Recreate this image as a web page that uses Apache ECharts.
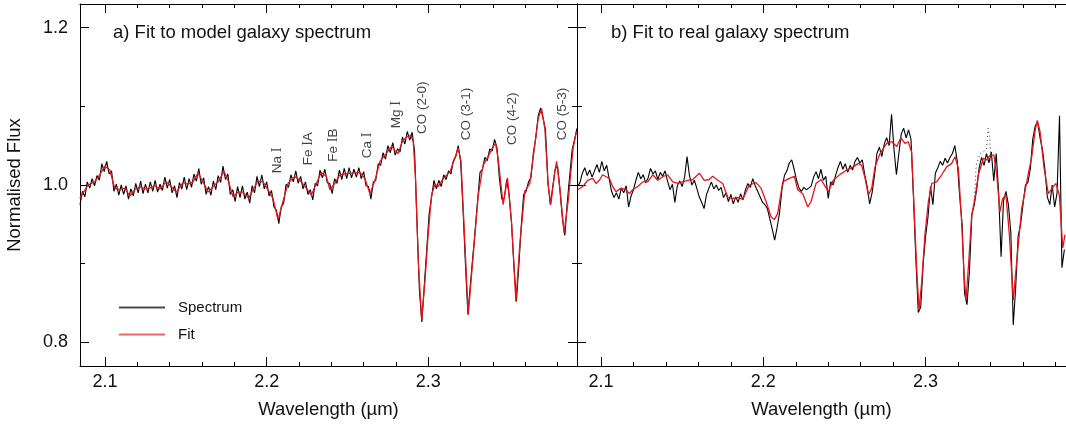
<!DOCTYPE html>
<html>
<head>
<meta charset="utf-8">
<script src="https://cdn.jsdelivr.net/npm/echarts@6/dist/echarts.min.js"></script>
<style>
  html, body { margin: 0; padding: 0; background: #fff; }
  #chart { width: 1066px; height: 424px; }
</style>
</head>
<body>
<div id="chart"></div>
<script>
// ---- tick values ----
const majorX = [2.1, 2.2, 2.3];
const minorX = [2.12, 2.14, 2.16, 2.18, 2.22, 2.24, 2.26, 2.28, 2.32, 2.34, 2.36, 2.38];
const majorY = [0.8, 1.0, 1.2];
const minorY = [0.9, 1.1];

// ---- panel a: model galaxy spectrum, regular wavelength grid ----
const modelStart = 2.0845;
const modelStep = 0.0015;
const modelSpectrum = [
  0.975,0.992,0.985,1.004,0.996,1.008,0.999,1.012,1.006,1.027,
  1.017,1.030,1.014,1.018,0.992,1.001,0.987,1.000,0.988,0.999,
  0.982,0.995,0.986,1.002,0.990,1.005,0.989,1.001,0.990,1.004,
  0.992,1.006,0.991,1.001,0.993,1.010,0.996,1.007,0.990,0.999,
  0.984,1.003,0.995,1.010,0.994,1.008,0.997,1.014,1.005,1.021,
  1.001,1.009,0.988,0.998,0.987,1.005,0.994,1.012,1.003,1.024,
  1.007,1.014,0.988,0.994,0.979,0.998,0.984,0.999,0.982,0.991,
  0.977,0.999,0.990,1.011,0.998,1.013,0.995,1.004,0.986,0.993,
  0.972,0.968,0.951,0.972,0.977,1.001,0.997,1.013,1.004,1.018,
  1.002,1.011,0.995,1.004,0.988,0.994,0.981,1.002,0.999,1.019,
  1.009,1.020,1.003,1.002,0.989,1.008,1.002,1.019,1.007,1.021,
  1.008,1.022,1.009,1.020,1.010,1.022,1.008,1.017,0.999,0.998,
  0.982,1.004,1.006,1.027,1.025,1.041,1.033,1.050,1.041,1.054,
  1.038,1.046,1.042,1.061,1.052,1.068,1.057,1.067,1.043,0.953,
  0.866,0.826,0.872,0.917,0.963,0.984,1.006,0.995,1.006,0.998,
  1.013,1.007,1.018,1.014,1.031,1.036,1.050,1.030,0.968,0.898,
  0.836,0.873,0.908,0.943,0.980,1.016,1.020,1.035,1.031,1.046,
  1.043,1.058,1.047,1.008,0.982,0.983,1.007,0.988,0.951,0.897,
  0.852,0.897,0.948,0.988,0.992,1.004,1.009,1.041,1.060,1.088,
  1.098,1.085,1.070,1.003,0.975,0.998,1.020,1.024,0.992,0.957,
  0.936,0.978,1.012,1.045,1.058,1.072
];
// best-fit template for panel a: [wavelength, flux]
const modelFit = [
  [2.0844,0.983],[2.0864,0.990],[2.0895,1.000],[2.0936,1.004],[2.0967,1.013],[2.0998,1.024],
  [2.1029,1.019],[2.1060,0.996],[2.1091,0.994],[2.1122,0.996],[2.1153,0.986],[2.1184,0.994],
  [2.1215,0.998],[2.1246,0.995],[2.1276,0.996],[2.1307,0.999],[2.1338,0.995],[2.1379,1.004],
  [2.1410,0.998],[2.1441,0.991],[2.1482,1.003],[2.1513,1.001],[2.1544,1.004],[2.1575,1.015],
  [2.1606,1.004],[2.1637,0.991],[2.1668,0.998],[2.1699,1.004],[2.1736,1.017],[2.1761,1.006],
  [2.1792,0.985],[2.1823,0.991],[2.1854,0.991],[2.1889,0.983],[2.1915,0.994],[2.1946,1.005],
  [2.1977,1.004],[2.2008,0.994],[2.2039,0.983],[2.2070,0.956],[2.2101,0.979],[2.2132,1.002],
  [2.2173,1.011],[2.2214,1.004],[2.2245,0.996],[2.2276,0.987],[2.2307,1.002],[2.2338,1.016],
  [2.2369,1.011],[2.2391,0.994],[2.2422,1.002],[2.2453,1.013],[2.2484,1.014],[2.2526,1.015],
  [2.2577,1.016],[2.2608,1.008],[2.2639,0.989],[2.2670,1.006],[2.2701,1.030],[2.2732,1.038],
  [2.2773,1.049],[2.2793,1.044],[2.2814,1.040],[2.2839,1.055],[2.2866,1.061],[2.2892,1.063],
  [2.2907,1.055],[2.2921,1.008],[2.2938,0.903],[2.2959,0.829],[2.2979,0.877],[2.2999,0.937],
  [2.3020,0.987],[2.3041,1.001],[2.3061,0.998],[2.3092,1.008],[2.3134,1.017],[2.3164,1.034],
  [2.3185,1.047],[2.3202,1.030],[2.3222,0.945],[2.3247,0.835],[2.3278,0.911],[2.3309,0.987],
  [2.3339,1.025],[2.3370,1.036],[2.3401,1.049],[2.3416,1.053],[2.3432,1.034],[2.3463,0.975],
  [2.3490,1.009],[2.3515,0.953],[2.3542,0.852],[2.3566,0.924],[2.3597,0.992],[2.3628,1.002],
  [2.3659,1.051],[2.3680,1.085],[2.3701,1.097],[2.3721,1.072],[2.3742,1.000],[2.3758,0.975],
  [2.3783,1.017],[2.3794,1.030],[2.3814,0.996],[2.3840,0.939],[2.3865,0.979],[2.3896,1.047],
  [2.3917,1.068]
];

// ---- panel b: real galaxy spectrum ----
const realStart = 2.0855;
const realStep = 0.0015;
const realSpectrum = [
  0.998,1.003,1.015,1.022,1.012,1.019,1.010,1.018,1.026,1.016,
  1.030,1.018,1.025,1.008,0.992,0.984,0.990,0.982,0.996,0.990,
  0.999,0.972,0.986,0.994,1.006,1.016,1.008,1.013,1.003,1.009,
  1.021,1.014,1.018,1.007,1.016,1.011,1.018,1.005,0.994,1.001,
  0.978,0.999,1.005,0.998,1.010,1.036,1.012,1.000,1.006,0.996,
  0.985,0.978,0.970,0.988,0.996,1.004,0.995,1.000,0.993,0.997,
  0.984,0.990,0.979,0.988,0.976,0.985,0.978,0.989,0.981,0.994,
  1.002,0.997,1.008,0.999,0.992,0.985,0.978,0.975,0.970,0.957,
  0.944,0.930,0.946,0.965,0.995,1.012,1.018,1.028,1.032,1.020,
  1.006,0.996,0.992,0.997,0.994,0.996,0.999,1.010,1.017,1.008,
  1.020,1.006,1.011,0.983,1.004,1.000,1.012,1.022,1.030,1.020,
  1.027,1.016,1.025,1.019,1.030,1.035,1.028,1.032,1.013,0.998,
  0.976,0.990,1.012,1.040,1.048,1.036,1.052,1.060,1.050,1.090,
  1.046,1.013,1.040,1.065,1.072,1.060,1.070,1.058,0.985,0.905,
  0.838,0.845,0.900,0.935,0.960,0.998,0.975,1.015,1.022,1.030,
  1.025,1.034,1.028,1.035,1.040,1.050,1.030,0.985,0.950,0.862,
  0.848,0.890,0.962,0.975,0.995,1.022,1.035,1.025,1.040,1.028,
  1.042,1.005,1.040,0.990,0.909,0.980,0.992,0.975,0.940,0.822,
  0.870,0.935,0.950,0.975,1.000,1.003,1.020,1.058,1.075,1.080,
  1.060,1.045,1.020,0.985,0.975,1.000,0.972,0.990,1.088,0.895,
  0.918
];
const realFit = [
  [2.0856,0.994],[2.0887,0.998],[2.0918,1.006],[2.0949,1.0085],[2.0969,1.002],[2.0990,1.006],
  [2.1010,1.013],[2.1031,1.0105],[2.1051,1.0085],[2.1072,0.998],[2.1092,0.9915],[2.1123,0.996],
  [2.1154,0.994],[2.1174,0.989],[2.1195,0.994],[2.1226,0.998],[2.1257,1.004],[2.1288,1.004],
  [2.1319,1.013],[2.1349,1.006],[2.1380,1.0105],[2.1411,1.013],[2.1442,1.004],[2.1473,1.002],
  [2.1503,1.004],[2.1534,1.006],[2.1565,1.007],[2.1606,1.015],[2.1636,1.006],[2.1667,1.007],
  [2.1688,1.011],[2.1719,1.006],[2.1750,1.002],[2.1781,0.984],[2.1811,0.983],[2.1842,0.984],
  [2.1873,0.982],[2.1914,1.000],[2.1955,1.003],[2.1986,0.996],[2.2017,0.979],[2.2047,0.960],
  [2.2068,0.956],[2.2089,0.964],[2.2120,1.004],[2.2160,1.0085],[2.2191,1.011],[2.2212,0.994],
  [2.2243,0.989],[2.2274,0.972],[2.2294,0.979],[2.2325,1.002],[2.2356,1.007],[2.2382,0.998],
  [2.2401,0.9915],[2.2431,1.006],[2.2473,1.0135],[2.2514,1.019],[2.2555,1.023],[2.2585,1.0275],
  [2.2606,1.025],[2.2627,1.0085],[2.2647,0.987],[2.2668,0.996],[2.2688,1.023],[2.2719,1.040],
  [2.2760,1.053],[2.2791,1.055],[2.2822,1.049],[2.2848,1.060],[2.2873,1.053],[2.2893,1.055],
  [2.2914,1.042],[2.2930,0.966],[2.2945,0.894],[2.2959,0.841],[2.2976,0.877],[2.2996,0.937],
  [2.3017,0.979],[2.3038,1.002],[2.3068,1.004],[2.3099,1.013],[2.3130,1.023],[2.3161,1.0275],
  [2.3181,1.036],[2.3202,1.021],[2.3222,0.953],[2.3237,0.886],[2.3249,0.854],[2.3263,0.894],
  [2.3284,0.962],[2.3304,0.983],[2.3325,1.013],[2.3356,1.034],[2.3376,1.032],[2.3397,1.038],
  [2.3421,1.038],[2.3438,1.013],[2.3458,0.966],[2.3475,0.983],[2.3495,0.987],[2.3516,0.937],
  [2.3540,0.854],[2.3565,0.911],[2.3592,0.970],[2.3623,1.004],[2.3654,1.036],[2.3674,1.068],
  [2.3688,1.082],[2.3705,1.068],[2.3730,1.021],[2.3756,0.989],[2.3787,0.998],[2.3803,1.002],
  [2.3824,0.987],[2.3845,0.920],[2.3859,0.937]
];
// masked (excluded) pixels in panel b, drawn dotted
const realMasked = [
  [2.3295,0.970],[2.3305,1.000],[2.3312,1.025],[2.3335,1.040],[2.3375,1.045],
  [2.3385,1.072],[2.3395,1.060],[2.3402,1.030]
];

// ---- absorption feature labels (panel a) ----
const featureNames = ['Na I','Fe IA','Fe IB','Ca I','Mg I','CO (2-0)','CO (3-1)','CO (4-2)','CO (5-3)'];
const featureWave  = [2.2067, 2.2257, 2.2412, 2.2622, 2.2800, 2.2963, 2.3237, 2.3522, 2.3826];
const featureFlux  = [1.015, 1.025, 1.0296, 1.034, 1.072, 1.0647, 1.057, 1.0508, 1.057];

const FONT = '"Liberation Sans", Arial, Helvetica, sans-serif';
const SERIF = '"Liberation Serif", "Times New Roman", serif';
const INK = '#111';
const RED = '#e8141c';

function gridPoints(start, step, values) {
  return values.map((v, i) => [+(start + i * step).toFixed(4), v]);
}

function xAxesFor(g, min, max, withName) {
  const base = { type: 'value', gridIndex: g, min, max, splitLine: { show: false } };
  const line = { show: true, onZero: false, lineStyle: { color: '#000', width: 1 } };
  const tick = (vals, len) => ({ show: true, inside: true, length: len, customValues: vals, lineStyle: { color: '#000', width: 1 } });
  return [
    Object.assign({}, base, {
      position: 'bottom', axisLine: line, axisTick: tick(majorX, 9),
      axisLabel: { show: true, customValues: majorX, margin: 7, fontSize: 18, color: INK, fontFamily: FONT, formatter: v => v.toFixed(1) },
      name: withName ? 'Wavelength (µm)' : '', nameLocation: 'middle', nameGap: 34,
      nameTextStyle: { fontSize: 18.5, color: INK, fontFamily: FONT }
    }),
    Object.assign({}, base, { position: 'bottom', axisLine: { show: false }, axisTick: tick(minorX, 4), axisLabel: { show: false } }),
    Object.assign({}, base, { position: 'top', axisLine: line, axisTick: tick(majorX, 9), axisLabel: { show: false } }),
    Object.assign({}, base, { position: 'top', axisLine: { show: false }, axisTick: tick(minorX, 4), axisLabel: { show: false } })
  ];
}

function yAxisFor(g, position, major, withLabels) {
  const base = { type: 'value', gridIndex: g, min: 0.77, max: 1.23, position, splitLine: { show: false } };
  if (major) {
    return Object.assign(base, {
      axisLine: { show: true, onZero: false, lineStyle: { color: '#000', width: 1 } },
      axisTick: { show: true, inside: true, length: 9, customValues: majorY, lineStyle: { color: '#000' } },
      axisLabel: withLabels
        ? { show: true, customValues: majorY, margin: 12, fontSize: 18, color: INK, fontFamily: FONT, formatter: v => v.toFixed(1) }
        : { show: false },
      name: withLabels ? 'Normalised Flux' : '', nameLocation: 'middle', nameGap: 56,
      nameTextStyle: { fontSize: 18.5, color: INK, fontFamily: FONT }
    });
  }
  return Object.assign(base, {
    axisLine: { show: false },
    axisTick: { show: true, inside: true, length: 5, customValues: minorY, lineStyle: { color: '#000' } },
    axisLabel: { show: false }
  });
}

const xAxes = xAxesFor(0, 2.0845, 2.392, true).concat(xAxesFor(1, 2.0852, 2.3865, true));
const yAxes = [
  yAxisFor(0, 'left', true, true),
  yAxisFor(0, 'left', false),
  yAxisFor(0, 'right', true, false),
  yAxisFor(0, 'right', false),
  yAxisFor(1, 'left', true, false),
  yAxisFor(1, 'left', false)
];

function featureLabel(p) {
  const m = p.name.match(/^(.*) I([AB]?)$/);
  if (m) return '{s|' + m[1] + ' }{r|I}' + (m[2] ? '{s|' + m[2] + '}' : '');
  return '{s|' + p.name + '}';
}

const option = {
  animation: false,
  backgroundColor: '#fff',
  title: [
    { text: 'a) Fit to model galaxy spectrum', left: 113, top: 23, padding: 0,
      textStyle: { fontSize: 18.5, fontWeight: 'normal', color: INK, fontFamily: FONT } },
    { text: 'b) Fit to real galaxy spectrum', left: 611, top: 23, padding: 0,
      textStyle: { fontSize: 18.5, fontWeight: 'normal', color: INK, fontFamily: FONT } }
  ],
  legend: {
    data: [
      { name: 'Spectrum', icon: 'rect', itemStyle: { color: '#4a4a4a' } },
      { name: 'Fit', icon: 'rect', itemStyle: { color: '#f06464' } }
    ],
    orient: 'vertical', left: 119, top: 300, padding: 0,
    itemWidth: 46, itemHeight: 2, itemGap: 12,
    selectedMode: false,
    textStyle: { fontSize: 15, color: INK, fontFamily: FONT, padding: [0, 0, 0, 8] }
  },
  grid: [
    { left: 80, top: 4, width: 497, height: 362 },
    { left: 577, top: 4, width: 489, height: 362 }
  ],
  xAxis: xAxes,
  yAxis: yAxes,
  series: [
    { name: 'Spectrum', type: 'line', xAxisIndex: 0, yAxisIndex: 0, symbol: 'none', silent: true,
      lineStyle: { color: '#000', width: 1.1 }, itemStyle: { color: '#000' },
      data: gridPoints(modelStart, modelStep, modelSpectrum) },
    { name: 'Fit', type: 'line', xAxisIndex: 0, yAxisIndex: 0, symbol: 'none', silent: true,
      lineStyle: { color: RED, width: 1.3 }, itemStyle: { color: RED },
      data: modelFit },
    { name: 'Spectrum', type: 'line', xAxisIndex: 4, yAxisIndex: 4, symbol: 'none', silent: true,
      lineStyle: { color: '#000', width: 1.1 }, itemStyle: { color: '#000' },
      data: gridPoints(realStart, realStep, realSpectrum) },
    { name: 'Masked', type: 'line', xAxisIndex: 4, yAxisIndex: 4, symbol: 'none', silent: true,
      lineStyle: { color: '#333', width: 1, type: [1, 3] },
      data: realMasked },
    { name: 'Fit', type: 'line', xAxisIndex: 4, yAxisIndex: 4, symbol: 'none', silent: true,
      lineStyle: { color: RED, width: 1.3 }, itemStyle: { color: RED },
      data: realFit },
    { name: 'Features', type: 'scatter', xAxisIndex: 0, yAxisIndex: 0, symbolSize: 1, silent: true,
      itemStyle: { color: 'transparent' },
      data: featureNames.map((n, i) => ({ name: n, value: [featureWave[i], featureFlux[i]] })),
      label: {
        show: true, position: 'inside', rotate: 90, align: 'left', verticalAlign: 'middle',
        formatter: featureLabel,
        rich: {
          s: { fontSize: 13.5, color: INK, fontFamily: FONT },
          r: { fontSize: 14, color: INK, fontFamily: SERIF }
        }
      } }
  ]
};

const chart = echarts.init(document.getElementById('chart'), null, { renderer: 'canvas' });
chart.setOption(option);
</script>
</body>
</html>
